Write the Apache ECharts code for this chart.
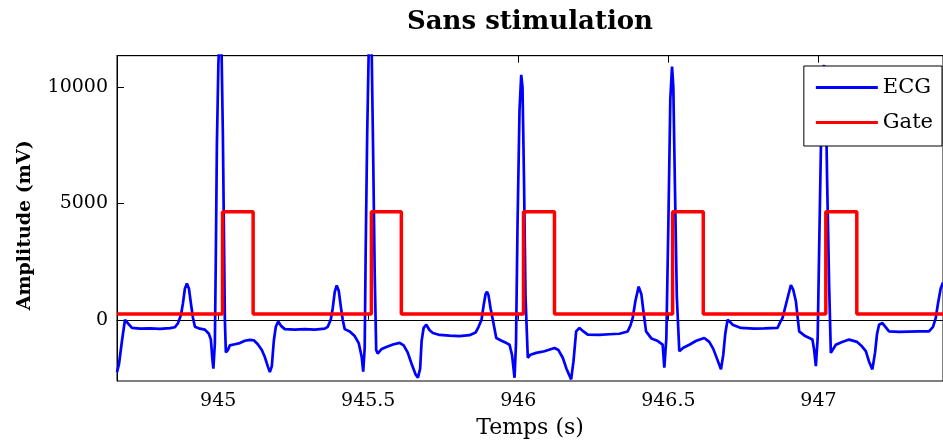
<!DOCTYPE html>
<html>
<head>
<meta charset="utf-8">
<script src="https://cdn.jsdelivr.net/npm/echarts@6/dist/echarts.min.js"></script>
<style>
html,body{margin:0;padding:0;background:#fff;}
#chart{width:943px;height:444px;}
</style>
</head>
<body>
<div id="chart"></div>
<script>
// ECG samples: time (s) and amplitude (mV)
var ecgTime = [
944.6629,944.6696,944.6795,944.6895,944.6995,944.7128,944.7394,944.7727,944.8060,944.8393,944.8559,
944.8659,944.8759,944.8825,944.8892,944.8958,944.9025,944.9092,944.9158,944.9225,944.9391,944.9557,944.9690,944.9757,944.9807,944.9840,
944.9890,944.9924,944.9957,945.0007,945.0057,945.0107,945.0156,945.0190,945.0223,945.0256,
945.0323,945.0389,945.0556,945.0722,945.0889,945.1055,945.1188,945.1321,945.1454,945.1554,945.1654,945.1721,945.1787,945.1854,945.1920,945.2003,945.2087,945.2220,945.2552,945.2885,945.3218,945.3551,
945.3651,945.3750,945.3817,945.3884,945.3950,945.4017,945.4083,945.4150,945.4216,945.4383,945.4549,945.4682,945.4782,945.4832,
945.4882,945.4915,945.4965,945.5015,945.5065,945.5115,945.5165,945.5215,945.5265,945.5314,
945.5448,945.5647,945.5847,945.6047,945.6180,945.6313,945.6446,945.6579,945.6656,945.6729,945.6779,945.6845,945.6935,945.7045,945.7155,945.7378,945.7711,945.8043,945.8376,945.8576,
945.8676,945.8775,945.8842,945.8909,945.8958,945.9008,945.9075,945.9151,945.9265,945.9441,945.9607,945.9707,945.9790,945.9874,
945.9924,945.9973,946.0040,946.0097,946.0140,946.0190,946.0240,946.0316,
946.0406,946.0596,946.0872,946.1205,946.1338,946.1481,946.1604,946.1760,946.1837,946.1927,946.2037,946.2170,946.2313,946.2702,946.3035,946.3368,946.3644,
946.3734,946.3810,946.3900,946.4010,946.4100,946.4166,946.4256,946.4433,946.4632,946.4809,946.4865,
946.4932,946.4998,946.5065,946.5122,946.5165,946.5215,946.5281,946.5364,
946.5498,946.5697,946.5930,946.6196,946.6363,946.6496,946.6629,946.6752,946.6829,946.6895,946.6972,946.7062,946.7138,946.7418,946.7860,946.8193,946.8636,
946.8726,946.8802,946.8925,946.9082,946.9158,946.9248,946.9358,946.9558,946.9800,946.9857,946.9914,
946.9974,947.0023,947.0090,947.0140,947.0190,947.0240,947.0289,947.0356,947.0413,
947.0579,947.0789,947.1022,947.1288,947.1421,947.1578,947.1687,947.1797,947.1887,947.1953,947.2020,947.2130,947.2353,947.2685,947.3018,947.3351,947.3684,
947.3817,947.3907,947.3983,947.4073,947.4150
];
var ecgValue = [
-2250,-1900,-900,0,-150,-350,-380,-370,-390,-360,-320,
-150,200,700,1350,1560,1350,700,100,-300,-380,-420,-600,-850,-1700,-2100,
-1000,3000,7500,11000,12500,12000,8000,4000,0,-1400,
-1300,-1100,-1050,-1000,-900,-860,-880,-1050,-1300,-1600,-2000,-2250,-2000,-900,-300,-70,-250,-400,-420,-400,-420,-380,
-300,0,500,1200,1480,1250,600,0,-400,-500,-700,-1000,-1600,-2230,
-1200,3000,8000,11500,12800,11500,7000,2000,-1300,-1450,
-1250,-1150,-1050,-990,-1100,-1400,-1900,-2350,-2490,-2100,-900,-350,-210,-450,-570,-650,-680,-700,-660,-550,
-300,0,600,1100,1210,1050,500,0,-780,-900,-1000,-1070,-1500,-2490,
-1000,4000,9000,10525,10000,6000,1000,-1630,
-1500,-1420,-1350,-1210,-1300,-1630,-2100,-2560,-1800,-500,-350,-500,-640,-650,-620,-600,-500,
-250,70,800,1425,1100,400,-500,-800,-900,-1070,-2060,
-800,4000,9500,10880,10000,6000,1000,-1350,
-1200,-1070,-900,-780,-950,-1250,-1700,-2130,-1500,-600,0,-100,-210,-350,-380,-370,-350,
-100,70,700,1495,1300,800,-500,-700,-850,-1300,-1990,
-800,3000,8000,10500,10950,10000,6000,1500,-1420,
-1070,-950,-850,-950,-1100,-1350,-1800,-2130,-1400,-600,-210,-140,-500,-520,-510,-500,-500,
-300,70,700,1350,1600
];
// Gate signal: switching times (s) and levels (mV)
var gateRise = [945.0146, 945.5105, 946.0173, 946.5141, 947.0246];
var gateFall = [945.1165, 945.6103, 946.1205, 946.6163, 947.1278];
var gateLow = 250;
var gateHigh = 4640;
// Axes
var xRange = [944.6629, 947.415];
var yRange = [-2630, 11350];
var xTicks = [945, 945.5, 946, 946.5, 947];
var yTicks = [0, 5000, 10000];

var ecgData = ecgTime.map(function (t, i) { return [t, ecgValue[i]]; });
var gateData = [[xRange[0], gateLow]];
gateRise.forEach(function (t, i) {
  gateData.push([t, gateHigh]);
  gateData.push([gateFall[i], gateLow]);
});
gateData.push([xRange[1], gateLow]);

var serif = 'DejaVu Serif';
var plain = function (v) { return String(v); };
var chart = echarts.init(document.getElementById('chart'), null, {renderer: 'canvas'});
chart.setOption({
  animation: false,
  backgroundColor: '#fff',
  title: {
    text: 'Sans stimulation',
    left: 407,
    top: 9,
    padding: 0,
    textStyle: {fontFamily: serif, fontWeight: 'bold', fontSize: 26, color: '#000'}
  },
  legend: {
    orient: 'vertical',
    right: 1,
    top: 66,
    padding: [11, 9, 13, 12],
    itemGap: 14,
    itemWidth: 62,
    itemHeight: 3,
    itemTextGap: 7,
    icon: 'rect',
    backgroundColor: '#fff',
    borderColor: '#000',
    borderWidth: 1,
    borderRadius: 0,
    textStyle: {fontFamily: serif, fontSize: 21, color: '#000'},
    data: ['ECG', 'Gate']
  },
  grid: {
    left: 117, top: 55.7, right: -1, bottom: 60.7,
    show: true, borderColor: '#000', borderWidth: 1, backgroundColor: 'transparent',
    containLabel: false
  },
  xAxis: [{
    type: 'value', min: xRange[0], max: xRange[1],
    name: 'Temps (s)', nameLocation: 'middle', nameGap: 36,
    nameTextStyle: {fontFamily: serif, fontSize: 22, color: '#000'},
    axisLine: {show: true, lineStyle: {color: '#000', width: 1}},
    axisTick: {show: true, inside: true, length: 7, lineStyle: {color: '#000'}, customValues: xTicks},
    axisLabel: {show: true, margin: 11, fontFamily: serif, fontSize: 19, color: '#000', customValues: xTicks,
      formatter: plain},
    splitLine: {show: false}
  }, {
    type: 'value', position: 'top', min: xRange[0], max: xRange[1],
    axisLine: {show: true, lineStyle: {color: '#000', width: 1}},
    axisTick: {show: true, inside: true, length: 7, lineStyle: {color: '#000'}, customValues: xTicks},
    axisLabel: {show: false},
    splitLine: {show: false}
  }],
  yAxis: {
    type: 'value', min: yRange[0], max: yRange[1],
    name: 'Amplitude (mV)', nameLocation: 'middle', nameGap: 82, nameRotate: 90,
    nameTextStyle: {fontFamily: serif, fontSize: 19, fontWeight: 'bold', color: '#000', padding: [0, 14, 0, 0]},
    axisLine: {show: true, lineStyle: {color: '#000', width: 1}},
    axisTick: {show: true, inside: true, length: 7, lineStyle: {color: '#000'}, customValues: yTicks},
    axisLabel: {show: true, margin: 9, fontFamily: serif, fontSize: 19, color: '#000', customValues: yTicks,
      formatter: plain},
    splitLine: {show: false}
  },
  series: [{
    name: 'ECG', type: 'line', data: ecgData, showSymbol: false, symbol: 'none',
    lineStyle: {color: '#0000ff', width: 2.7}, itemStyle: {color: '#0000ff'},
    clip: true, z: 2
  }, {
    name: 'Gate', type: 'line', data: gateData, step: 'end', showSymbol: false, symbol: 'none',
    lineStyle: {color: '#ff0000', width: 3.5}, itemStyle: {color: '#ff0000'},
    clip: true, z: 3
  }]
});
</script>
</body>
</html>
